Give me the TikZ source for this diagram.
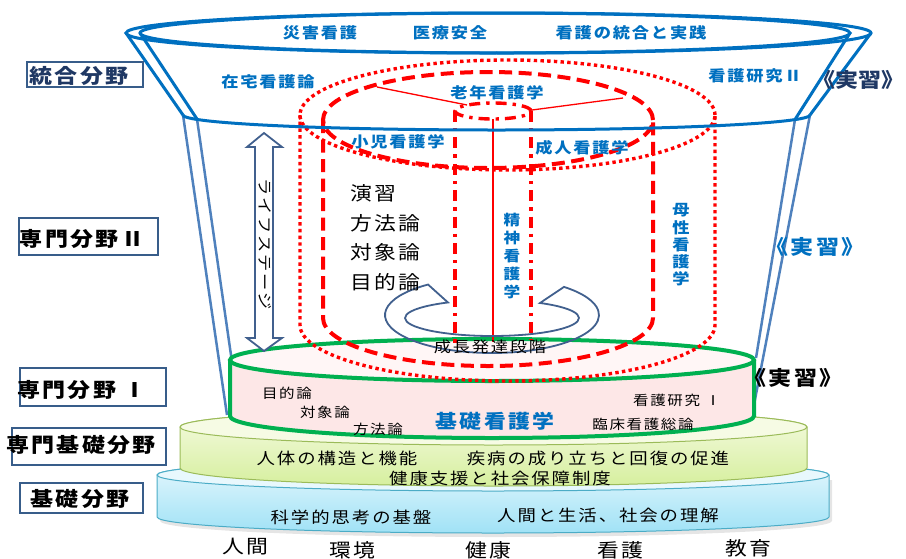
\documentclass[tikz,border=0pt]{standalone}
\usepackage{fontspec}
\setmainfont{Noto Sans CJK JP}[FakeStretch=1.15,LetterSpace=12]
\definecolor{rimblue}{RGB}{0,112,192}
\definecolor{tubeblue}{RGB}{79,129,189}
\definecolor{txtblue}{RGB}{0,112,192}
\definecolor{ringblue}{RGB}{65,96,142}
\definecolor{boxblue}{RGB}{56,93,138}
\definecolor{navy}{RGB}{31,56,100}
\definecolor{grline}{RGB}{0,176,80}
\definecolor{cyantop}{RGB}{232,248,253}
\definecolor{cyanbot}{RGB}{160,226,246}
\definecolor{cyanedge}{RGB}{75,172,198}
\definecolor{limetop}{RGB}{246,251,228}
\definecolor{limebot}{RGB}{214,239,158}
\definecolor{limeedge}{RGB}{155,187,89}
\definecolor{pinkside}{RGB}{253,231,231}
\definecolor{pinktop}{RGB}{255,246,246}
\newcommand\fsz[1]{\fontsize{#1}{#1}\selectfont}
\begin{document}
\begin{tikzpicture}[x=1pt,y=1pt,
  bluelbl/.style={text=txtblue,font=\fsz{15}\bfseries,inner sep=0pt},
  blk/.style={text=black,inner sep=0pt},
  vlbl/.style={text=txtblue,font=\fontsize{14.5}{18}\selectfont\bfseries,align=center,inner sep=0pt},
  fieldbox/.style={draw=boxblue,line width=1.8pt,fill=white},
  fieldtxt/.style={font=\fsz{20}\bfseries,inner sep=0pt},
  dotred/.style={red,line width=3.4pt,dash pattern=on 3.4pt off 3.3pt},
  dashred/.style={red,line width=4pt,dash pattern=on 13pt off 6.5pt},
  dashdotred/.style={red,line width=3.4pt,dash pattern=on 11pt off 6pt on 3.4pt off 6pt},
  thinred/.style={red,line width=1.3pt},
  rim/.style={rimblue,line width=3pt},
  tube/.style={tubeblue,line width=2.5pt},
  ringline/.style={ringblue,line width=1.8pt},
]
\useasboundingbox (0,0) rectangle (906,-558);

% ---- base disk (blue) ----
\fill[black!10] (160,-480) -- (160,-521) arc[start angle=180,end angle=360,x radius=336,y radius=16] -- (832,-480) -- cycle;
\shadedraw[top color=cyantop,bottom color=cyanbot,draw=cyanedge,line width=1pt]
  (157,-475) -- (157,-517) arc[start angle=180,end angle=360,x radius=336,y radius=16]
  -- (829,-475) arc[start angle=0,end angle=180,x radius=336,y radius=16] -- cycle;
\filldraw[fill=cyantop,draw=cyanedge,line width=1pt] (493,-475) ellipse[x radius=336,y radius=16];

% ---- specialised base disk (lime) ----
\shadedraw[top color=limetop,bottom color=limebot,draw=limeedge,line width=1pt]
  (180,-427) -- (180,-468) arc[start angle=180,end angle=360,x radius=313.5,y radius=18]
  -- (807,-427) arc[start angle=0,end angle=180,x radius=313.5,y radius=18] -- cycle;
\filldraw[fill=limetop,draw=limeedge,line width=1pt] (493.5,-427) ellipse[x radius=313.5,y radius=18];

% ---- funnel tube ----
\draw[tube] (183,-115) -- (227,-415);
\draw[tube] (197,-119) -- (232,-362);
\draw[tube] (795,-119.5) -- (756,-358);
\draw[tube] (810,-115) -- (752,-415);

% ---- pink cylinder ----
\fill[pinkside] (230,-360) -- (230,-416) arc[start angle=180,end angle=360,x radius=262,y radius=22] -- (754,-360) -- cycle;
\fill[pinktop] (492,-360) ellipse[x radius=262,y radius=21];
\draw[grline,line width=4pt] (492,-360) ellipse[x radius=262,y radius=21];
\draw[grline,line width=4pt] (230,-360) -- (230,-416) arc[start angle=180,end angle=360,x radius=262,y radius=22] -- (754,-360);

% ---- red cylinders ----
\draw[dotred] (507.5,-115) ellipse[x radius=207.5,y radius=55];
\draw[dotred] (300,-115) -- (300,-325) arc[start angle=180,end angle=360,x radius=207.5,y radius=56] -- (715,-115);
\draw[dashred] (488,-120) ellipse[x radius=165,y radius=48];
\draw[dashred] (323,-120) -- (323,-318) arc[start angle=180,end angle=360,x radius=165,y radius=48] -- (653,-120);
\draw[dashdotred] (493,-111) ellipse[x radius=38,y radius=8];
\draw[dashdotred] (455,-111) -- (455,-345);
\draw[dashdotred] (531,-111) -- (531,-340);
\draw[thinred] (493,-119) -- (493,-342);
\draw[thinred] (377,-87) -- (467,-105);
\draw[thinred] (532,-110) -- (623,-98);

% ---- funnel rim and cone ----
\draw[rim] (488,-33) ellipse[x radius=362,y radius=20];
\draw[rim] (505.5,-33) ellipse[x radius=365.5,y radius=20];
\draw[rim] (126,-33) -- (183,-115);
\draw[rim] (140,-33) -- (197,-119);
\draw[rim] (850,-33) -- (795,-119.5);
\draw[rim] (871,-33) -- (810,-115);
\draw[rim] (183,-115) arc[start angle=180,end angle=360,x radius=313.5,y radius=15];

% ---- circular arrow ----
\draw[ringline] ([shift={(492,-315)}]126.7:107 and 38) arc[start angle=126.7,end angle=407.7,x radius=107,y radius=38]
  -- ([shift={(492,-318)}]56.5:87 and 18) arc[start angle=56.5,end angle=-239.6,x radius=87,y radius=18] -- cycle;

% ---- double arrow ----
\draw[ringline,fill=white] (264,-133) -- (282,-147) -- (273,-147) -- (273,-338) -- (282,-338) -- (264,-351)
  -- (247,-338) -- (255,-338) -- (255,-147) -- (247,-147) -- cycle;
\node[blk,rotate=-90,font=\fsz{15}] (life) at (265,-244) {ライフステージ};

% ---- blue labels ----
\node[bluelbl] (saigai) at (320,-33) {災害看護};
\node[bluelbl] (iryo) at (450,-33) {医療安全};
\node[bluelbl] (togo) at (631,-33) {看護の統合と実践};
\node[bluelbl] (zaitaku) at (268,-82) {在宅看護論};
\node[bluelbl] (ken2) at (755,-76) {看護研究Ⅱ};
\node[bluelbl] (ronen) at (497,-93) {老年看護学};
\node[bluelbl] (shoni) at (398,-142) {小児看護学};
\node[bluelbl] (seijin) at (582,-148) {成人看護学};
\node[vlbl] (seishin) at (512,-256) {精\\神\\看\\護\\学};
\node[vlbl,font=\fontsize{15}{17.3}\selectfont\bfseries] (bosei) at (681,-245) {母\\性\\看\\護\\学};

% ---- black block ----
\node[blk,anchor=west,font=\fsz{19}] (enshu) at (350,-193) {演習};
\node[blk,anchor=west,font=\fsz{19}] (hoho) at (350,-223) {方法論};
\node[blk,anchor=west,font=\fsz{19}] (taisho) at (350,-252) {対象論};
\node[blk,anchor=west,font=\fsz{19}] (mokuteki) at (350,-282) {目的論};
\node[blk,font=\fsz{15}] (seicho) at (490,-347) {成長発達段階};

% ---- basic nursing ----
\node[blk,font=\fsz{13.5}] (m2) at (287,-393) {目的論};
\node[blk,font=\fsz{13.5}] (t2) at (325,-412) {対象論};
\node[blk,font=\fsz{13.5}] (h2) at (378,-429) {方法論};
\node[bluelbl,font=\fsz{19}\bfseries] (kiso) at (495,-421) {基礎看護学};
\node[blk,font=\fsz{13.5}] (ken1) at (677,-400) {看護研究 Ⅰ};
\node[blk,font=\fsz{13.5}] (rinsho) at (643,-424) {臨床看護総論};

% ---- layer texts ----
\node[blk,font=\fsz{16}] (jintai) at (337,-458) {人体の構造と機能};
\node[blk,font=\fsz{16}] (shippei) at (598,-458) {疾病の成り立ちと回復の促進};
\node[blk,font=\fsz{16}] (kenko) at (500,-478) {健康支援と社会保障制度};
\node[blk,font=\fsz{16}] (kagaku) at (351,-517) {科学的思考の基盤};
\node[blk,font=\fsz{16}] (ningen) at (608,-515) {人間と生活、社会の理解};

% ---- bottom words ----
\node[blk,font=\fsz{19}] (w1) at (245,-547) {人間};
\node[blk,font=\fsz{19}] (w2) at (352,-550) {環境};
\node[blk,font=\fsz{19}] (w3) at (488,-550) {健康};
\node[blk,font=\fsz{19}] (w4) at (620,-550) {看護};
\node[blk,font=\fsz{19}] (w5) at (748,-548) {教育};

% ---- practice labels ----
\node[fieldtxt,text=navy,font=\fsz{20}\bfseries\addfontfeature{LetterSpace=0}] (j1) at (858,-80) {《実習》};
\node[fieldtxt,text=txtblue] (j2) at (815,-247) {《実習》};
\node[fieldtxt,text=black] (j3) at (793,-378) {《実習》};

% ---- field boxes ----
\draw[fieldbox] (27,-62) rectangle (143,-87);
\node[fieldtxt,text=navy] (f1) at (79,-76) {統合分野};
\draw[fieldbox] (19,-218) rectangle (158,-255);
\node[fieldtxt] (f2) at (82,-239) {専門分野Ⅱ};
\draw[fieldbox] (20,-368) rectangle (166,-406);
\node[fieldtxt] (f3) at (82,-390) {専門分野 Ⅰ};
\draw[fieldbox] (12,-428) rectangle (166,-465);
\node[fieldtxt] (f4) at (81,-445) {専門基礎分野};
\draw[fieldbox] (20,-483) rectangle (143,-513);
\node[fieldtxt] (f5) at (80,-499) {基礎分野};
\end{tikzpicture}
\end{document}
